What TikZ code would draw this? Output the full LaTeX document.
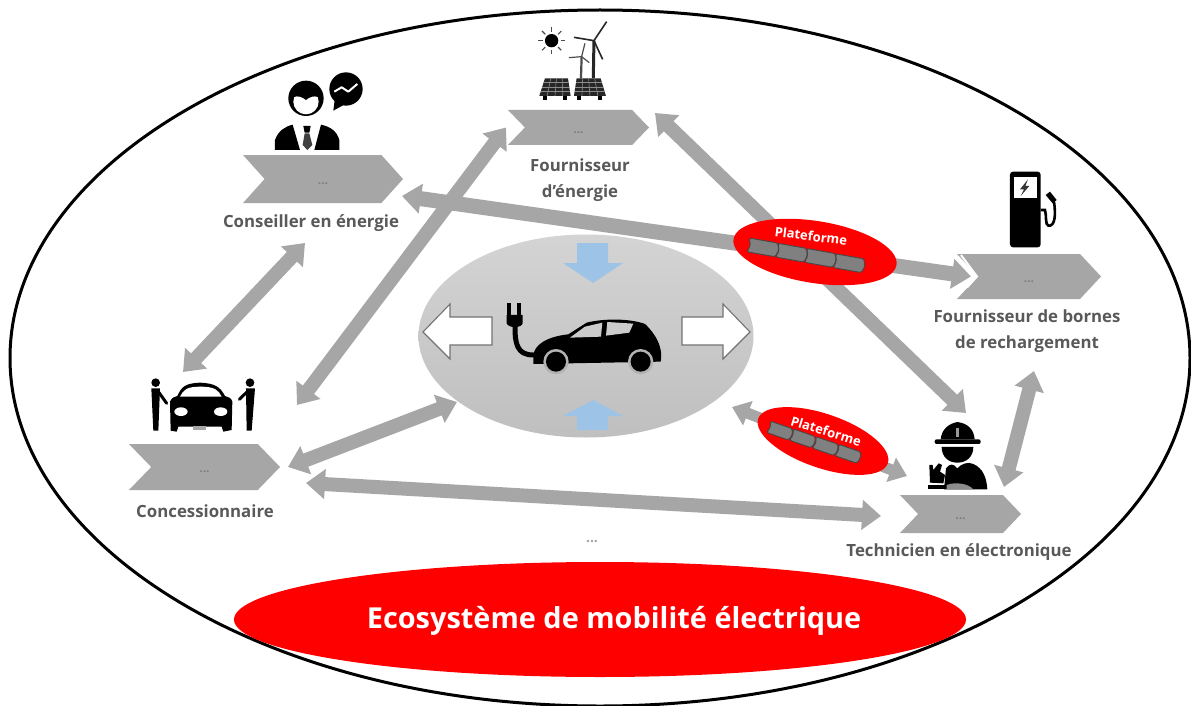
\documentclass[tikz,border=0pt]{standalone}
\usepackage{fontspec}
\setmainfont{Open Sans}
\usetikzlibrary{shapes.symbols,shapes.geometric,arrows.meta}
\definecolor{shapegray}{HTML}{A6A6A6}
\definecolor{labelgray}{HTML}{595959}
\definecolor{flowblue}{HTML}{9DC3E6}
\newcommand{\chevdots}{\rule{0pt}{12pt}...}
\tikzset{
  chevron/.style={signal,signal to=east,signal from=west,signal pointer angle=92,fill=shapegray,draw=none,
    inner sep=0pt,outer sep=0pt,font=\fontsize{12}{12}\selectfont\bfseries,text=black!50},
  lab/.style={font=\fontsize{16.8}{26}\selectfont\bfseries,text=labelgray,align=center,inner sep=0pt},
  conn/.style={draw=shapegray,line width=14pt,{Triangle[width=29pt,length=19pt]}-{Triangle[width=29pt,length=19pt]}},
  connthin/.style={draw=shapegray,line width=11pt,{Triangle[width=25pt,length=17pt]}-{Triangle[width=25pt,length=17pt]}},
  platell/.style={ellipse,fill=red,draw=none,inner sep=0pt},
  platseg/.style={signal,signal to=east,signal from=west,signal pointer angle=145,fill=black!50,draw=black!72,line width=.9pt,rounded corners=1.5pt,inner sep=0pt,outer sep=0pt},
  plattext/.style={font=\fontsize{13}{13}\selectfont\bfseries,text=white,inner sep=0pt},
  icon/.style={fill=black,draw=none},
  whitearrow/.style={fill=white,draw=black!55,line width=1.1pt,line join=miter},
  bluearrow/.style={fill=flowblue,draw=none},
}
\begin{document}
\begin{tikzpicture}[x=1pt,y=-1pt]
\useasboundingbox (0,0) rectangle (1191,706);
\fill[white] (0,0) rectangle (1191,706);
% main ellipses
\node[ellipse,draw=black,line width=3pt,minimum width=1180pt,minimum height=696pt,inner sep=0pt] (eco) at (600,358) {};
\node[ellipse,fill=red,minimum width=732pt,minimum height=115pt,inner sep=0pt] (titleback) at (600,619.5) {};
\node[text=white,font=\fontsize{28.9}{29}\selectfont\bfseries,inner sep=0pt] (title) at (614,620.5) {Ecosystème de mobilité électrique};
\node[ellipse,top color=black!17,bottom color=black!25,minimum width=335pt,minimum height=203pt,inner sep=0pt] (core) at (586,336) {};
% chevrons
\node[chevron,minimum width=160pt,minimum height=48pt,signal pointer angle=96] (cons) at (323,179) {\chevdots};
\node[chevron,minimum width=141pt,minimum height=35pt] (ener) at (578.5,127.5) {\chevdots};
\node[chevron,minimum width=144pt,minimum height=45pt,signal pointer angle=94] (born) at (1029,276.5) {\chevdots};
\node[chevron,minimum width=151pt,minimum height=46pt] (conc) at (204.5,467) {\chevdots};
\node[chevron,minimum width=121pt,minimum height=38pt,signal pointer angle=93] (tech) at (960.5,514) {\chevdots};
% labels
\node[lab] (lcons) at (311,223.5) {Conseiller en énergie};
\node[lab] (lener) at (580,180) {Fournisseur\\d’énergie};
\node[lab] (lborn) at (1027,331) {Fournisseur de bornes\\de rechargement};
\node[lab] (lconc) at (205,511) {Concessionnaire};
\node[lab] (ltech) at (959,552.5) {Technicien en électronique};
\node[font=\fontsize{14}{14}\selectfont\bfseries,text=black!35,inner sep=0pt] (more) at (592,542) {...};
% connectors
\draw[conn] ([shift={(-18,64)}]cons.center) -- ([shift={(-21.5,-95)}]conc.center);
\draw[conn] ([shift={(92.5,-62)}]conc.center) -- ([shift={(-72.5,0)}]ener.center);
\draw[conn,line width=15pt] ([shift={(79,17)}]cons.center) -- ([shift={(-58,0)}]born.center);
\draw[white,line width=2pt] ([shift={(-68,-21.5)}]born.center) -- ([shift={(-52,0)}]born.center) -- ([shift={(-62,11)}]born.center);
\draw[conn] ([shift={(76.5,-14.5)}]ener.center) -- ([shift={(5.5,-101)}]tech.center);
\draw[conn] ([shift={(83.5,0)}]conc.center) -- ([shift={(-129,66)}]core.center);
\draw[conn] ([shift={(101.5,16)}]conc.center) -- ([shift={(-79.5,2)}]tech.center);
\draw[connthin] ([shift={(146,71)}]core.center) -- ([shift={(-53.5,-38)}]tech.center);
\draw[conn] ([shift={(43.5,-27)}]tech.center) -- ([shift={(5,94.5)}]born.center);
% platforms
\node[platell,minimum width=165pt,minimum height=62pt,rotate=-9] (plat1) at (815,252) {};
\node[platseg,minimum width=31pt,minimum height=14pt,rotate=-10] (s11) at (763.4,247.6) {};
\node[platseg,minimum width=31pt,minimum height=14pt,rotate=-10] (s12) at (792.1,252.9) {};
\node[platseg,minimum width=31pt,minimum height=14pt,rotate=-10] (s13) at (820.9,258.1) {};
\node[platseg,minimum width=31pt,minimum height=14pt,rotate=-10] (s14) at (849.6,263.4) {};
\node[plattext,rotate=-7] (t1) at (811,236) {Plateforme};
\node[platell,minimum width=137pt,minimum height=54pt,rotate=-19] (plat2) at (823,441) {};
\node[platseg,minimum width=25pt,minimum height=12pt,rotate=-19] (s21) at (780.4,430.9) {};
\node[platseg,minimum width=25pt,minimum height=12pt,rotate=-19] (s22) at (803.1,438.6) {};
\node[platseg,minimum width=25pt,minimum height=12pt,rotate=-19] (s23) at (825.9,446.4) {};
\node[platseg,minimum width=25pt,minimum height=12pt,rotate=-19] (s24) at (848.6,454.1) {};
\node[plattext,rotate=-17] (t2) at (826,431) {Plateforme};
% core arrows
\fill[bluearrow] (577,243) -- (608,243) -- (608,263) -- (623,263) -- (593,283) -- (563,263) -- (577,263) -- cycle;
\fill[bluearrow] (577,430) -- (608,430) -- (608,416) -- (623,416) -- (593,400) -- (563,416) -- (577,416) -- cycle;
\draw[whitearrow] (492,317) -- (450,317) -- (450,304) -- (423,332) -- (450,359) -- (450,345) -- (492,345) -- cycle;
\draw[whitearrow] (682,317) -- (723,317) -- (723,304) -- (750,332) -- (723,359) -- (723,345) -- (682,345) -- cycle;
% electric car (reference zoom units)
\begin{scope}[shift={(400,220)},x=0.3333pt,y=-0.3333pt]
  \draw[black,line width=5pt,line cap=round] (345,318) .. controls (345,370) and (350,405) .. (400,405);
  \fill[icon] (320,285) -- (368,285) -- (368,310) .. controls (365,325) and (325,325) .. (320,310) -- cycle;
  \fill[icon] (322,250) rectangle (334,287);
  \fill[icon] (352,250) rectangle (364,287);
  \fill[icon] (400,410) .. controls (400,375) and (440,350) .. (505,343) -- (560,308) .. controls (610,295) and (690,295) .. (735,312)
     .. controls (770,345) and (790,385) .. (782,425) -- (400,432) -- cycle;
  \fill[black!20] (510,353) -- (555,320) -- (607,308) -- (603,350) -- cycle;
  \fill[black!20] (622,306) -- (700,311) -- (688,338) -- (618,347) -- cycle;
  \fill[black!30] (468,425) circle (38);
  \fill[black!30] (722,425) circle (38);
  \fill[icon] (468,425) circle (30);
  \fill[icon] (722,425) circle (30);
\end{scope}
% adviser
\begin{scope}[shift={(220,10)},x=0.3333pt,y=-0.3333pt]
  \fill[icon] (258,265) circle (53);
  \fill[white] (258,275) circle (38);
  \fill[icon] (218,262) .. controls (225,225) and (290,225) .. (298,262) .. controls (280,255) and (268,262) .. (258,270) .. controls (248,262) and (235,255) .. (218,262) -- cycle;
  \fill[icon] (378,237) circle (50);
  \fill[icon] (345,262) -- (340,302) -- (380,280) -- cycle;
  \draw[white,line width=2pt,line join=round] (343,245) -- (365,232) -- (385,245) -- (412,222);
  \fill[icon] (165,420) -- (165,390) .. controls (175,362) and (195,350) .. (218,344) -- (240,420) -- cycle;
  \fill[icon] (283,420) -- (303,344) .. controls (330,350) and (350,362) .. (358,390) -- (358,420) -- cycle;
  \fill[icon] (250,348) -- (272,348) -- (268,368) -- (254,368) -- cycle;
  \fill[black!75] (254,370) -- (268,370) -- (277,405) -- (262,420) -- (248,405) -- cycle;
\end{scope}
% energy
\begin{scope}[shift={(220,10)},x=0.3333pt,y=-0.3333pt]
  \fill[icon] (995,92) circle (20);
  \foreach \a in {0,45,...,315}{\draw[black!70,line width=1.1pt] (995,92) ++(\a:27) -- ++(\a:14);}
  \draw[black!85,line width=3pt] (1120,205) -- (1122,92);
  \draw[black!85,line width=1.6pt] (1122,92) -- (1160,35);
  \draw[black!85,line width=1.6pt] (1122,92) -- (1062,82);
  \draw[black!85,line width=1.6pt] (1122,92) -- (1148,148);
  \draw[black!70,line width=2.2pt] (1083,205) -- (1085,140);
  \draw[black!70,line width=1.2pt] (1085,140) -- (1095,100);
  \draw[black!70,line width=1.2pt] (1085,140) -- (1047,143);
  \draw[black!70,line width=1.2pt] (1085,140) -- (1108,158);
  \fill[black!85] (975,205) -- (1044,205) -- (1052,258) -- (958,258) -- cycle;
  \fill[black!85] (1070,205) -- (1142,205) -- (1158,258) -- (1062,258) -- cycle;
  \foreach \t in {0.25,0.5,0.75}{
    \draw[black!45,line width=.6pt] (975+\t*69,205) -- (958+\t*94,258);
    \draw[black!45,line width=.6pt] (1070+\t*72,205) -- (1062+\t*96,258);
    \draw[black!45,line width=.6pt] (975-\t*17,205+\t*53) -- (1044+\t*8,205+\t*53);
    \draw[black!45,line width=.6pt] (1070-\t*8,205+\t*53) -- (1142+\t*16,205+\t*53);
  }
  \fill[icon] (968,258) rectangle (980,270);
  \fill[icon] (1030,258) rectangle (1042,270);
  \fill[icon] (1072,258) rectangle (1084,270);
  \fill[icon] (1135,258) rectangle (1147,270);
\end{scope}
% dealer
\begin{scope}[shift={(120,360)},x=0.3333pt,y=-0.3333pt]
  \fill[icon] (150,125) .. controls (155,112) and (165,110) .. (172,108) .. controls (185,80) and (195,70) .. (240,68) .. controls (285,70) and (300,80) .. (315,108)
     .. controls (325,110) and (335,115) .. (337,125) -- (335,210) -- (310,215) -- (305,200) -- (175,200) -- (170,215) -- (152,212) -- cycle;
  \fill[white] (180,110) .. controls (190,90) and (200,80) .. (240,80) .. controls (285,80) and (295,90) .. (305,110) -- cycle;
  \fill[white] (183,155) ellipse (20 and 13);
  \fill[white] (302,155) ellipse (20 and 13);
  \fill[black!35] (220,197) rectangle (258,209);
  \fill[icon] (107,68) circle (13);
  \fill[icon] (390,68) circle (13);
  \fill[icon] (94,85) -- (120,85) -- (115,212) -- (100,212) -- cycle;
  \draw[black,line width=3pt,line cap=round] (115,95) -- (140,130);
  \fill[icon] (378,85) -- (405,85) -- (395,212) -- (380,212) -- cycle;
  \draw[black,line width=3pt,line cap=round] (382,95) -- (358,118);
\end{scope}
% charger
\begin{scope}[shift={(880,160)},x=0.3333pt,y=-0.3333pt]
  \fill[icon,rounded corners=3pt] (390,35) rectangle (482,262);
  \fill[white] (402,50) rectangle (470,115);
  \fill[black!80] (444,58) -- (420,88) -- (432,88) -- (422,108) -- (448,78) -- (436,78) -- cycle;
  \draw[black,line width=2.6pt] (482,150) -- (495,150) .. controls (500,165) and (495,195) .. (505,197) .. controls (525,200) and (528,165) .. (522,125);
  \fill[icon] (497,105) -- (510,95) -- (530,120) -- (518,130) -- cycle;
\end{scope}
% technician
\begin{scope}[shift={(840,400)},x=0.3333pt,y=-0.3333pt]
  \fill[icon] (302,118) .. controls (305,85) and (330,70) .. (352,66) .. controls (385,70) and (402,90) .. (404,118) -- cycle;
  \fill[icon,rounded corners=2pt] (284,118) rectangle (422,132);
  \fill[black!40] (347,85) rectangle (357,110);
  \fill[icon] (305,141) -- (400,141) .. controls (400,170) and (380,188) .. (352,188) .. controls (325,188) and (305,170) .. (305,141) -- cycle;
  \fill[icon] (312,268) -- (318,205) .. controls (330,190) and (340,190) .. (352,205) .. controls (365,190) and (385,185) .. (400,192) .. controls (430,205) and (440,235) .. (442,268) -- cycle;
  \fill[icon] (268,195) -- (278,195) -- (280,210) -- (296,190) -- (306,195) -- (300,215) -- (315,225) -- (310,250) -- (270,248) -- cycle;
  \fill[icon] (265,255) rectangle (320,268);
  \fill[black!45] (320,255) .. controls (345,245) and (385,250) .. (400,268) -- (320,268) -- cycle;
\end{scope}
\end{tikzpicture}
\end{document}
